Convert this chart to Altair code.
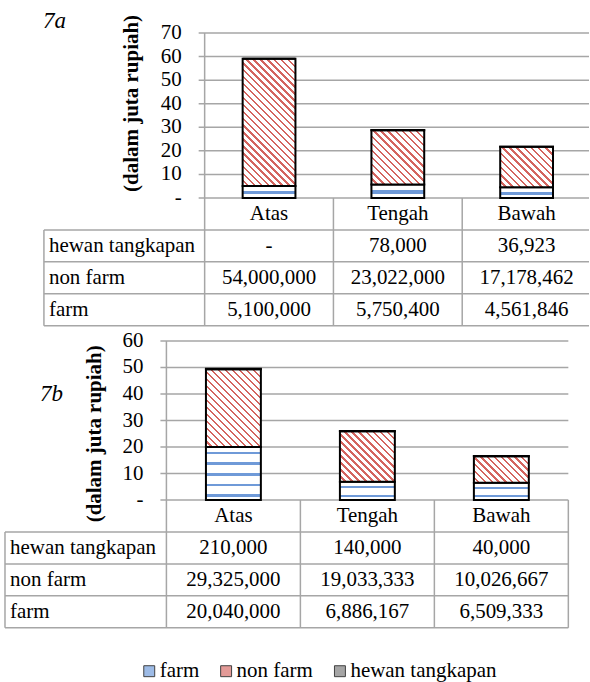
import altair as alt
import pandas as pd

# ---------------- data ----------------
CATS = ["Atas", "Tengah", "Bawah"]
SERIES = ["farm", "non farm", "hewan tangkapan"]          # stacking order (bottom -> top)
TABLE_ORDER = ["hewan tangkapan", "non farm", "farm"]     # data-table row order

A_FARM = [5100000, 5750400, 4561846]
A_NONFARM = [54000000, 23022000, 17178462]
A_HEWAN = [0, 78000, 36923]
A_TICKS = [0, 10, 20, 30, 40, 50, 60, 70]

B_FARM = [20040000, 6886167, 6509333]
B_NONFARM = [29325000, 19033333, 10026667]
B_HEWAN = [210000, 140000, 40000]
B_TICKS = [0, 10, 20, 30, 40, 50, 60]

Y_TITLE = "(dalam juta rupiah)"
LEGEND_COLORS = ["#9dbbe6", "#e39a97", "#a5a5a5"]

# ---------------- style / layout ----------------
FONT = "Liberation Serif"
FS = 21
LINE = "#a6a6a6"
RED = "#d4655f"
BLUE = "#6f9ad8"
GRAY = "#a5a5a5"
W = 590
BAR = 0.41

LAYOUT = {
    "7a": dict(h=330, zero=197.7, top_px=32.5, top_val=70, axis=205.0, col=129.0,
               left=44.0, row=32.0, tag_xy=(43, 20), title_xy=(132, 103)),
    "7b": dict(h=300, zero=169.3, top_px=10.0, top_val=60, axis=166.7, col=134.2,
               left=5.0, row=32.0, tag_xy=(40, 63), title_xy=(95, 103)),
}


def fill_nonfarm(w, h):
    period = 7.0
    n = max(1, round((w + h) / period))
    k = (w + h) / (w * w + h * h)
    stops = []
    for i in range(n):
        a, b, c = i / n, (i + 0.66) / n, (i + 1) / n
        stops += [{"offset": a, "color": "#ffffff"}, {"offset": b, "color": "#ffffff"},
                  {"offset": b, "color": RED}, {"offset": min(c, 1.0), "color": RED}]
    return {"gradient": "linear", "x1": 0, "y1": 1, "x2": k * w, "y2": 1 - k * h,
            "stops": stops}


def fill_farm(w, h):
    period = 10.6
    n = max(1, round(h / period))
    stops = []
    for i in range(n):
        a, b, c, d = i / n, (i + 0.45) / n, (i + 0.70) / n, (i + 1) / n
        stops += [{"offset": a, "color": "#ffffff"}, {"offset": b, "color": "#ffffff"},
                  {"offset": b, "color": BLUE}, {"offset": c, "color": BLUE},
                  {"offset": c, "color": "#ffffff"}, {"offset": min(d, 1.0), "color": "#ffffff"}]
    return {"gradient": "linear", "x1": 0, "y1": 0, "x2": 0, "y2": 1, "stops": stops}


def figure(key, farm, nonfarm, hewan, ticks, with_legend=False):
    L = LAYOUT[key]
    ppu = (L["zero"] - L["top_px"]) / L["top_val"]
    ydom = [(L["zero"] - L["h"]) / ppu, L["zero"] / ppu]
    xdom = [-L["axis"] / L["col"], (W - L["axis"]) / L["col"]]
    xs = alt.Scale(domain=xdom, nice=False, zero=False)
    ys = alt.Scale(domain=ydom, nice=False, zero=False)
    rh = L["row"] / ppu
    xl = (L["left"] - L["axis"]) / L["col"]
    xt = -6.0 / L["col"]
    xr = min(3.0, xdom[1])
    nrows = len(TABLE_ORDER) + 1
    series_vals = [farm, nonfarm, hewan]

    layers = []

    # --- horizontal lines (gridlines + table rows)
    hl = pd.DataFrame([{"y": t, "xa": xt, "xb": xr} for t in ticks] +
                      [{"y": -r * rh, "xa": xl, "xb": xr} for r in range(1, nrows + 1)])
    layers.append(alt.Chart(hl).mark_rule(color=LINE, strokeWidth=1.5).encode(
        x=alt.X("xa:Q", scale=xs, axis=None), x2="xb:Q",
        y=alt.Y("y:Q", scale=ys, axis=None)))

    # --- vertical lines
    vrows = [{"x": xl, "ya": -rh, "yb": -nrows * rh},
             {"x": 0.0, "ya": ticks[-1], "yb": -nrows * rh}]
    for k in range(1, 4):
        if k <= xdom[1]:
            vrows.append({"x": float(k), "ya": 0.0, "yb": -nrows * rh})
    layers.append(alt.Chart(pd.DataFrame(vrows)).mark_rule(color=LINE, strokeWidth=1.5).encode(
        x=alt.X("x:Q", scale=xs, axis=None),
        y=alt.Y("ya:Q", scale=ys, axis=None), y2="yb:Q"))

    # --- y tick labels
    tdf = pd.DataFrame({"t": ticks})
    layers.append(alt.Chart(tdf).transform_calculate(
        tx=f"{-23.0 / L['col']}", lab="datum.t == 0 ? '-  ' : '' + datum.t").mark_text(
        font=FONT, fontSize=FS, color="black", align="right", baseline="middle").encode(
        x=alt.X("tx:Q", scale=xs, axis=None), y=alt.Y("t:Q", scale=ys, axis=None),
        text="lab:N"))

    # --- y title
    layers.append(alt.Chart(pd.DataFrame({"t": [Y_TITLE]})).mark_text(
        font=FONT, fontSize=FS, fontWeight="bold", color="black", angle=270,
        align="center", baseline="middle").encode(
        x=alt.value(L["title_xy"][0]), y=alt.value(L["title_xy"][1]), text="t:N"))

    # --- stacked bars, one layer per segment so each gets its hatch
    rows = []
    for si, vals in enumerate(series_vals):
        for ci, c in enumerate(CATS):
            rows.append({"series": SERIES[si], "si": si, "cat": c, "ci": ci, "value": vals[ci]})
    bdf = pd.DataFrame(rows)
    stacked = (alt.Chart(bdf)
               .transform_calculate(m="datum.value / 1000000")
               .transform_stack(stack="m", groupby=["ci"], as_=["y0", "y1"],
                                sort=[alt.SortField(field="si", order="ascending")])
               .transform_calculate(xa=f"datum.ci + 0.5 - {BAR / 2}",
                                    xb=f"datum.ci + 0.5 + {BAR / 2}"))
    bw = BAR * L["col"]
    for si, vals in enumerate(series_vals):
        for ci in range(len(CATS)):
            h = vals[ci] / 1e6 * ppu
            if si == 0:
                fill = fill_farm(bw, h)
            elif si == 1:
                fill = fill_nonfarm(bw, h)
            else:
                fill = GRAY
            layers.append(
                stacked.transform_filter(f"datum.si == {si} && datum.ci == {ci}")
                .mark_bar(fill=fill, stroke="black", strokeWidth=2)
                .encode(x=alt.X("xa:Q", scale=xs, axis=None), x2="xb:Q",
                        y=alt.Y("y0:Q", scale=ys, axis=None), y2="y1:Q"))

    # --- table: header
    hdf = pd.DataFrame({"cat": CATS, "ci": list(range(len(CATS)))})
    layers.append(alt.Chart(hdf).transform_calculate(
        tx="datum.ci + 0.5", ty=f"-0.5 * {rh}").mark_text(
        font=FONT, fontSize=FS, color="black", align="center", baseline="middle").encode(
        x=alt.X("tx:Q", scale=xs, axis=None), y=alt.Y("ty:Q", scale=ys, axis=None),
        text="cat:N"))

    # --- table: row labels
    ldf = pd.DataFrame({"lab": TABLE_ORDER, "r": list(range(1, nrows))})
    layers.append(alt.Chart(ldf).transform_calculate(
        tx=f"{xl + 5.0 / L['col']}", ty=f"-(datum.r + 0.5) * {rh}").mark_text(
        font=FONT, fontSize=FS, color="black", align="left", baseline="middle").encode(
        x=alt.X("tx:Q", scale=xs, axis=None), y=alt.Y("ty:Q", scale=ys, axis=None),
        text="lab:N"))

    # --- table: values
    trows = []
    for r, s in enumerate(TABLE_ORDER):
        vals = series_vals[SERIES.index(s)]
        for ci in range(len(CATS)):
            trows.append({"r": r + 1, "ci": ci, "value": vals[ci]})
    layers.append(alt.Chart(pd.DataFrame(trows)).transform_calculate(
        tx="datum.ci + 0.5", ty=f"-(datum.r + 0.5) * {rh}",
        lab="datum.value == 0 ? '-' : format(datum.value, ',.0f')").mark_text(
        font=FONT, fontSize=FS, color="black", align="center", baseline="middle").encode(
        x=alt.X("tx:Q", scale=xs, axis=None), y=alt.Y("ty:Q", scale=ys, axis=None),
        text="lab:N"))

    # --- panel tag
    layers.append(alt.Chart(pd.DataFrame({"t": [key]})).mark_text(
        font=FONT, fontSize=23, fontStyle="italic", color="black", align="left",
        baseline="middle").encode(x=alt.value(L["tag_xy"][0]), y=alt.value(L["tag_xy"][1]),
                                  text="t:N"))

    # --- legend carrier (zero-size bars)
    if with_legend:
        layers.append(alt.Chart(pd.DataFrame({"series": SERIES})).mark_bar(strokeWidth=0).encode(
            x=alt.value(0), x2=alt.value(0), y=alt.value(0), y2=alt.value(0),
            color=alt.Color("series:N", scale=alt.Scale(domain=SERIES, range=LEGEND_COLORS),
                            legend=alt.Legend(orient="none", legendX=139, legendY=661,
                                              direction="horizontal", title=None,
                                              symbolType="square", symbolSize=120,
                                              symbolStrokeColor="#404040", symbolStrokeWidth=1,
                                              labelFont=FONT, labelFontSize=FS,
                                              labelColor="black", labelOffset=0,
                                              columnPadding=16, padding=0))))

    return alt.layer(*layers).properties(width=W, height=L["h"])


fig_a = figure("7a", A_FARM, A_NONFARM, A_HEWAN, A_TICKS)
fig_b = figure("7b", B_FARM, B_NONFARM, B_HEWAN, B_TICKS, with_legend=True)

chart = (alt.vconcat(fig_a, fig_b, spacing=0)
         .properties(padding={"left": 0, "top": 0, "right": 0, "bottom": 0}, background="white")
         .configure_view(stroke=None))

chart.save("out.html", embed_options={"renderer": "svg", "actions": False})
